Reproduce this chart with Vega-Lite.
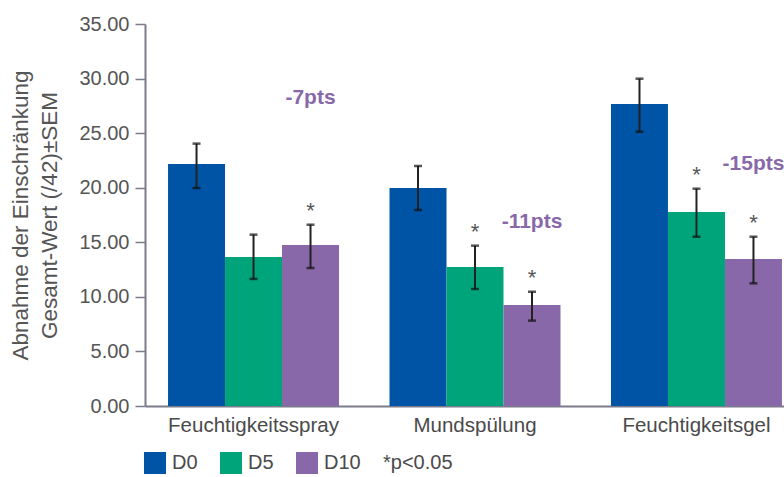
{
  "$schema": "https://vega.github.io/schema/vega-lite/v6.json",
  "width": 639,
  "height": 382,
  "autosize": {"type": "none"},
  "padding": {"left": 145, "top": 24, "right": 0, "bottom": 71},
  "background": "white",
  "config": {
    "font": "Liberation Sans",
    "view": {"stroke": null},
    "axis": {"grid": false}
  },
  "datasets": {
    "bars": [
      {"group": "Feuchtigkeitsspray", "series": "D0", "value": 22.17, "lower": 19.97, "upper": 24.04, "star": false},
      {"group": "Feuchtigkeitsspray", "series": "D5", "value": 13.65, "lower": 11.64, "upper": 15.7, "star": false},
      {"group": "Feuchtigkeitsspray", "series": "D10", "value": 14.75, "lower": 12.64, "upper": 16.61, "star": true},
      {"group": "Mundspülung", "series": "D0", "value": 19.97, "lower": 17.96, "upper": 21.99, "star": false},
      {"group": "Mundspülung", "series": "D5", "value": 12.74, "lower": 10.72, "upper": 14.69, "star": true},
      {"group": "Mundspülung", "series": "D10", "value": 9.25, "lower": 7.82, "upper": 10.47, "star": true},
      {"group": "Feuchtigkeitsgel", "series": "D0", "value": 27.67, "lower": 25.13, "upper": 29.99, "star": false},
      {"group": "Feuchtigkeitsgel", "series": "D5", "value": 17.78, "lower": 15.51, "upper": 19.91, "star": true},
      {"group": "Feuchtigkeitsgel", "series": "D10", "value": 13.47, "lower": 11.24, "upper": 15.51, "star": true}
    ],
    "notes": [
      {"group": "Feuchtigkeitsspray", "series": "D10", "y": 28.2, "label": "-7pts"},
      {"group": "Mundspülung", "series": "D10", "y": 16.9, "label": "-11pts"},
      {"group": "Feuchtigkeitsgel", "series": "D10", "y": 22.2, "label": "-15pts"}
    ]
  },
  "encoding": {
    "x": {
      "field": "group",
      "type": "nominal",
      "sort": ["Feuchtigkeitsspray", "Mundspülung", "Feuchtigkeitsgel"],
      "scale": {"range": [0, 660], "paddingInner": 0.228, "paddingOuter": 0.104},
      "axis": {
        "title": null,
        "labelAngle": 0,
        "ticks": false,
        "tickSize": 0,
        "labelPadding": 9,
        "labelFontSize": 20.5,
        "labelColor": "#4a4a4a",
        "labelBaseline": "top",
        "domainColor": "#7b7b8b",
        "domainWidth": 2
      }
    },
    "xOffset": {
      "field": "series",
      "type": "nominal",
      "sort": ["D0", "D5", "D10"],
      "scale": {"paddingInner": 0, "paddingOuter": 0}
    }
  },
  "layer": [
    {
      "data": {"name": "bars"},
      "mark": {"type": "bar"},
      "encoding": {
        "y": {
          "field": "value",
          "type": "quantitative",
          "scale": {"domain": [0, 35], "nice": false},
          "axis": {
            "values": [0, 5, 10, 15, 20, 25, 30, 35],
            "format": ".2f",
            "title": ["Abnahme der Einschränkung", "Gesamt-Wert (/42)±SEM"],
            "titleFontSize": 22.5,
            "titleFontWeight": "normal",
            "titleColor": "#555555",
            "titleLineHeight": 29,
            "titlePadding": 17,
            "labelFontSize": 20,
            "labelColor": "#555555",
            "labelPadding": 6,
            "tickSize": 10,
            "tickColor": "#7b7b8b",
            "tickWidth": 1.5,
            "domainColor": "#7b7b8b",
            "domainWidth": 2
          }
        },
        "color": {
          "field": "series",
          "type": "nominal",
          "sort": ["D0", "D5", "D10"],
          "scale": {"domain": ["D0", "D5", "D10"], "range": ["#0054a6", "#00a47b", "#8968aa"]},
          "legend": {
            "orient": "none",
            "legendX": -1,
            "legendY": 428,
            "direction": "horizontal",
            "title": "*p<0.05",
            "titleOrient": "right",
            "titleFontSize": 20,
            "titleFontWeight": "normal",
            "titleColor": "#4a4a4a",
            "titlePadding": 22,
            "symbolType": "square",
            "symbolSize": 484,
            "symbolStrokeWidth": 0,
            "symbolOpacity": 1,
            "labelFontSize": 20,
            "labelColor": "#4a4a4a",
            "labelOffset": 6,
            "columnPadding": 22
          }
        }
      }
    },
    {
      "data": {"name": "bars"},
      "mark": {"type": "rule", "color": "#222222", "strokeWidth": 2},
      "encoding": {
        "y": {"field": "lower", "type": "quantitative"},
        "y2": {"field": "upper"}
      }
    },
    {
      "data": {"name": "bars"},
      "mark": {"type": "tick", "color": "#111111", "size": 8, "thickness": 2.5, "orient": "horizontal"},
      "encoding": {
        "y": {"field": "upper", "type": "quantitative"}
      }
    },
    {
      "data": {"name": "bars"},
      "mark": {"type": "tick", "color": "#111111", "size": 8, "thickness": 2.5, "orient": "horizontal"},
      "encoding": {
        "y": {"field": "lower", "type": "quantitative"}
      }
    },
    {
      "data": {"name": "bars"},
      "transform": [{"filter": "datum.star"}],
      "mark": {"type": "text", "text": "*", "fontSize": 22, "color": "#555555", "baseline": "bottom", "dy": -2},
      "encoding": {
        "y": {"field": "upper", "type": "quantitative"}
      }
    },
    {
      "data": {"name": "notes"},
      "mark": {"type": "text", "fontSize": 21, "fontWeight": "bold", "color": "#8968aa", "baseline": "middle", "align": "center"},
      "encoding": {
        "y": {"field": "y", "type": "quantitative"},
        "text": {"field": "label"}
      }
    }
  ]
}
